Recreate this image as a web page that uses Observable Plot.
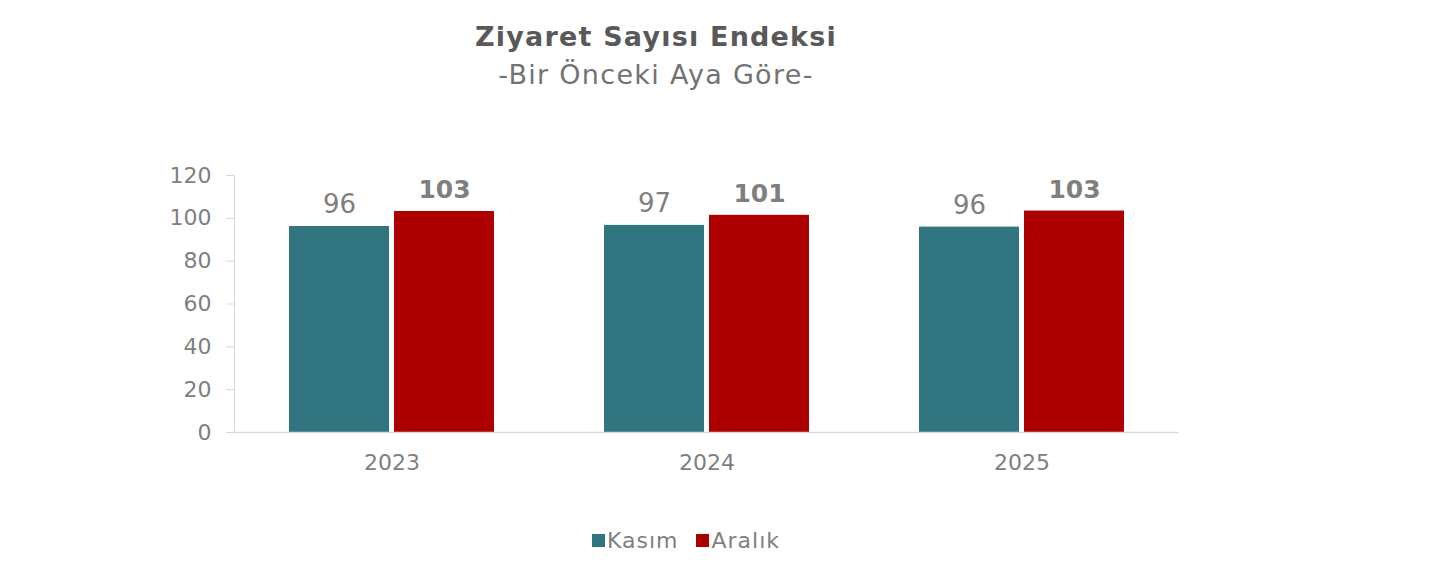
<!DOCTYPE html>
<html>
<head>
<meta charset="utf-8">
<script src="https://cdn.jsdelivr.net/npm/d3@7"></script>
<script src="https://cdn.jsdelivr.net/npm/@observablehq/plot@0.6"></script>
<style>
  html, body { margin: 0; padding: 0; background: #fff; }
  #wrap { position: relative; width: 1456px; height: 583px; overflow: hidden; font-family: "DejaVu Sans", Verdana, sans-serif; }
  #title { position: absolute; left: 0; width: 1312px; top: 20px; text-align: center; font-size: 27px; font-weight: bold; color: #595959; line-height: 34px; letter-spacing: 1.2px; }
  #subtitle { position: absolute; left: 0; width: 1312px; top: 58px; text-align: center; font-size: 27px; color: #737373; line-height: 34px; letter-spacing: 1.3px; }
  #chart { position: absolute; left: 0; top: 0; }
  #legend { position: absolute; left: 0; width: 1372px; top: 527px; text-align: center; font-size: 22px; color: #7f7f7f; line-height: 26px; letter-spacing: 1px; }
  .item { display: inline-flex; align-items: center; margin: 0 9px; }
  .sw { display: inline-block; width: 13px; height: 13px; margin-right: 2px; }
</style>
</head>
<body>
<div id="wrap">
  <div id="title">Ziyaret Sayısı Endeksi</div>
  <div id="subtitle">-Bir Önceki Aya Göre-</div>
  <div id="chart"></div>
  <div id="legend"></div>
</div>
<script>
const years = ["2023", "2024", "2025"];
const seriesNames = ["Kasım", "Aralık"];
const kasim = [96.2, 96.7, 95.9];
const aralik = [103.2, 101.4, 103.4];
const colors = ["#307580", "#AD0000"];
const yTicks = [0, 20, 40, 60, 80, 100, 120];

const data = [];
years.forEach((y, i) => {
  data.push({year: y, series: seriesNames[0], value: kasim[i]});
  data.push({year: y, series: seriesNames[1], value: aralik[i]});
});

const chart = Plot.plot({
  width: 1456,
  height: 583,
  marginLeft: 233,
  marginRight: 276,
  marginTop: 175,
  marginBottom: 151,
  style: {fontFamily: "DejaVu Sans, Verdana, sans-serif", background: "transparent"},
  fx: {domain: years, paddingInner: 0, paddingOuter: 0, label: null},
  x: {domain: seriesNames, paddingInner: 0.045, paddingOuter: 0.52, axis: null},
  y: {domain: [0, 120], label: null, axis: null},
  color: {domain: seriesNames, range: colors},
  marks: [
    Plot.frame({anchor: "left", stroke: "#d9d9d9", facetAnchor: "left"}),
    Plot.axisY({ticks: yTicks, tickSize: 8, tickPadding: 15, stroke: "#d9d9d9", fill: "#7f7f7f", fontSize: 22, label: null, anchor: "left"}),
    Plot.axisFx({anchor: "bottom", tickSize: 0, tickPadding: 22, fill: "#7f7f7f", fontSize: 22, label: null}),
    Plot.barY(data, {fx: "year", x: "series", y: "value", fill: "series"}),
    Plot.ruleY([0], {stroke: "#d9d9d9", strokeWidth: 1.5}),
    Plot.text(data.filter(d => d.series === seriesNames[0]), {fx: "year", x: "series", y: "value", text: d => String(Math.round(d.value)), lineAnchor: "bottom", dy: -13, fontSize: 26, fill: "#7f7f7f"}),
    Plot.text(data.filter(d => d.series === seriesNames[1]), {fx: "year", x: "series", y: "value", text: d => String(Math.round(d.value)), lineAnchor: "bottom", dy: -13, fontSize: 25, fontWeight: "bold", fill: "#7f7f7f"})
  ]
});
document.getElementById("chart").appendChild(chart);

const legend = document.getElementById("legend");
seriesNames.forEach((s, i) => {
  const item = document.createElement("span");
  item.className = "item";
  const sw = document.createElement("span");
  sw.className = "sw";
  sw.style.background = colors[i];
  item.appendChild(sw);
  item.appendChild(document.createTextNode(s));
  legend.appendChild(item);
});
</script>
</body>
</html>
